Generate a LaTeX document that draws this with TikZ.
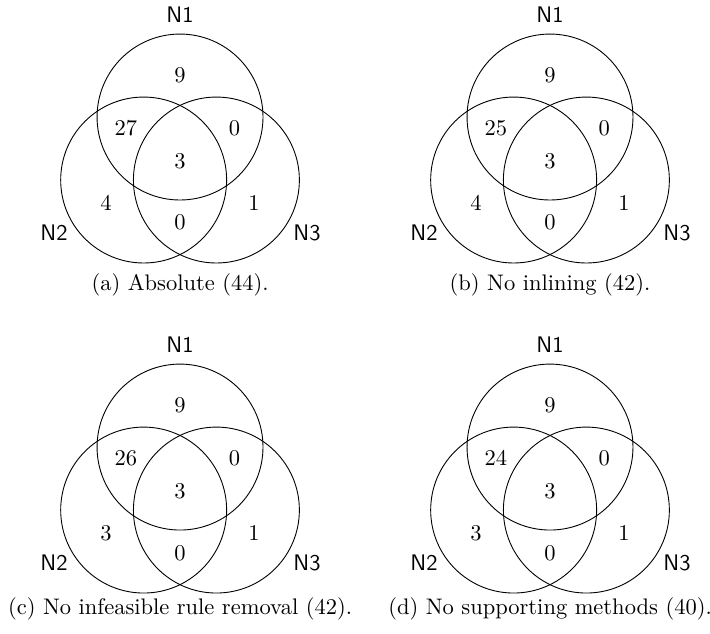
\documentclass[tikz,border=0pt]{standalone}
\usepackage{tikz}
\usetikzlibrary{positioning,calc}

\begin{document}
\begin{tikzpicture}[venn/.style={circle,draw,minimum size=25.92mm,inner sep=0pt},setname/.style={font=\sffamily},region/.style={inner sep=1pt}]
    \useasboundingbox (-2.812,2.484) rectangle (8.278,-7.404);
    \foreach \i/\px/\py/\cy/\nab/\nb/\txt in {a/0/0/1.968/27/4/{(a) Absolute (44).},
                                             b/5.779/0/1.968/25/4/{(b) No inlining (42).},
                                             c/0/-5.155/1.874/26/3/{(c) No infeasible rule removal (42).},
                                             d/5.779/-5.155/1.874/24/3/{(d) No supporting methods (40).}} {
        \begin{scope}[shift={(\px,\py)}]
            % the three sets
            \node[venn] (s1\i) at (90:0.656) {};
            \node[venn] (s2\i) at (210:0.656) {};
            \node[venn] (s3\i) at (330:0.656) {};
            \node[setname] (l1\i) at (0,2.249) {N1};
            \node[setname] (l2\i) at (-1.968,-1.156) {N2};
            \node[setname] (l3\i) at (1.984,-1.156) {N3};
            % counts per region
            \node[region] (r1\i) at (0,1.312) {9};
            \node[region] (r12\i) at (-0.844,0.48) {\nab};
            \node[region] (r13\i) at (0.849,0.48) {0};
            \node[region] (r123\i) at (0,-0.031) {3};
            \node[region] (r2\i) at (-1.156,-0.692) {\nb};
            \node[region] (r3\i) at (1.156,-0.692) {1};
            \node[region] (r23\i) at (0,-0.995) {0};
            \node (cap\i) at (0,-\cy) {\txt};
        \end{scope}
    }
\end{tikzpicture}
\end{document}
